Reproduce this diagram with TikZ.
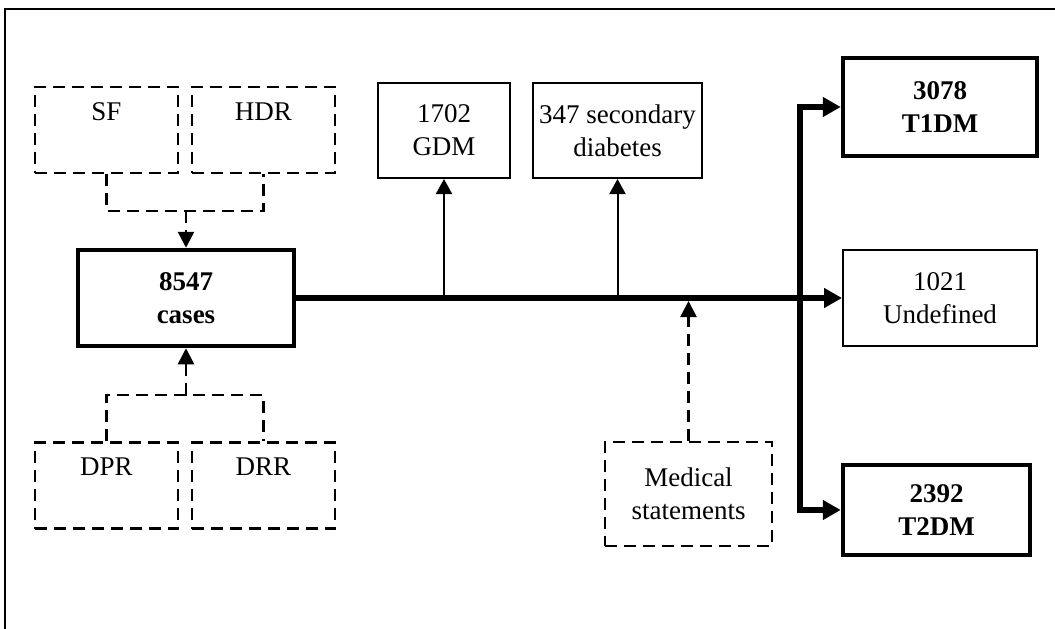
\documentclass[tikz,border=0pt]{standalone}
\usepackage{fontspec}
\setmainfont{Liberation Serif}
\usepackage{tikz}
\usetikzlibrary{arrows.meta}
\usetikzlibrary{calc}

\tikzset{
  thinbox/.style={draw, line width=2pt, align=center, inner sep=0pt},
  boldbox/.style={draw, line width=4.5pt, align=center, inner sep=0pt, font=\fontsize{27}{33}\selectfont\bfseries},
  dashbox/.style={draw, line width=2.5pt, dash pattern=on 12pt off 7pt, align=center, inner sep=0pt},
  dashline/.style={line width=2.5pt, dash pattern=on 12pt off 7pt},
  thinarrow/.style={line width=2pt, -{Triangle[length=15pt,width=16pt]}},
  dasharrow/.style={dashline, -{Triangle[length=16pt,width=16pt]}},
  thickarrow/.style={line width=5.5pt, -{Triangle[length=18pt,width=19pt]}}
}

\begin{document}
\begin{tikzpicture}[x=1pt, y=-1pt, font=\fontsize{27}{33}\selectfont]
    \useasboundingbox (0,0) rectangle (1055,629);

    % Frame (only top and left edges are shown)
    \draw[line width=2pt] (5,629) -- (5,9) -- (1055,9);

    % Sources
    \node[dashbox, minimum width=143pt, minimum height=86pt] (sf) at (106.5,130) {SF\\[4pt]};
    \node[dashbox, minimum width=143pt, minimum height=86pt] (hdr) at (263.5,130) {HDR\\[4pt]};
    \node[dashbox, minimum width=143pt, minimum height=86pt] (dpr) at (106.5,485.5) {DPR\\[4pt]};
    \node[dashbox, minimum width=143pt, minimum height=86pt] (drr) at (263.5,485.5) {DRR\\[4pt]};

    % Merged cases
    \node[boldbox, minimum width=216pt, minimum height=96pt] (cases) at (186,298) {8547\\cases};

    % Excluded groups
    \node[thinbox, minimum width=132pt, minimum height=95pt] (gdm) at (444,130.5) {1702\\GDM};
    \node[thinbox, minimum width=169pt, minimum height=95pt] (sec) at (617.5,130.5) {347 secondary\\diabetes};
    \node[dashbox, minimum width=167pt, minimum height=104pt] (med) at (688.5,494) {Medical\\statements};

    % Outcomes
    \node[boldbox, minimum width=194pt, minimum height=98pt] (t1) at (940,107) {3078\\T1DM};
    \node[thinbox, minimum width=194pt, minimum height=96pt] (undef) at (940,298) {1021\\Undefined};
    \node[boldbox, minimum width=187pt, minimum height=90pt] (t2) at (936.5,510) {2392\\T2DM};

    % Junction points
    \coordinate (topjoin) at (186,211);
    \coordinate (botjoin) at (186,395);
    \coordinate (split) at (800,298);

    % Sources into cases
    \draw[dashline] (sf.south) |- (topjoin) -| (hdr.south);
    \draw[dasharrow] (topjoin) -- (cases.north);
    \draw[dashline] (dpr.north) |- (botjoin) -| (drr.north);
    \draw[dasharrow] (botjoin) -- (cases.south);

    % Main flow
    \draw[thickarrow] (cases.east) -- (undef.west);
    \draw[thinarrow] (gdm.south |- cases.east) -- (gdm.south);
    \draw[thinarrow] (sec.south |- cases.east) -- (sec.south);
    \draw[dasharrow, shorten >=3pt] (med.north) -- (med.north |- cases.east);

    % Split into types
    \draw[thickarrow] (split) |- (t1.west);
    \draw[thickarrow] (split) |- (t2.west);
\end{tikzpicture}
\end{document}
